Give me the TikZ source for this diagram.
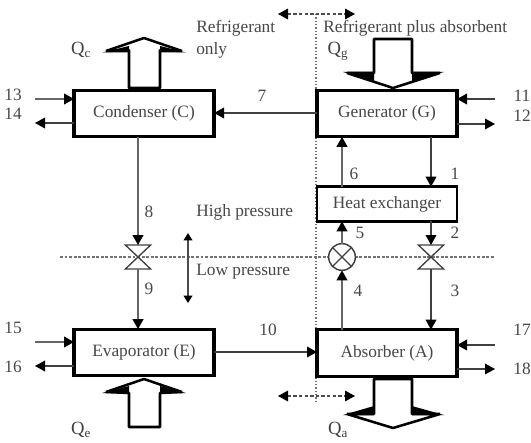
\documentclass[tikz,border=0pt]{standalone}
\usepackage{fontspec}
\setmainfont{Liberation Serif}
\usetikzlibrary{arrows.meta}
\definecolor{txt}{gray}{0.28}
\definecolor{lin}{gray}{0.25}
\tikzset{
  unit/.style={draw=black,line width=2.4pt,fill=white,inner sep=0pt,outer sep=0pt,text=txt,font=\fontsize{13}{15}\selectfont,minimum width=105pt},
  lab/.style={inner sep=0pt,text=txt,font=\fontsize{13}{15}\selectfont},
  lableft/.style={lab,anchor=west},
  qlab/.style={inner sep=0pt,text=black!75,font=\fontsize{14}{15}\selectfont},
  flow/.style={draw=lin,line width=1pt,-{Triangle[length=7.5pt,width=8pt,black]}},
  flowb/.style={draw=black!60,line width=1.5pt,-{Triangle[length=7.5pt,width=8pt,black]}},
  bigarrow/.style={draw=black,line width=1.9pt,fill=white,line join=bevel},
  barb/.style={fill=black,draw=none},
  valvebox/.style={inner sep=0pt,outer sep=0pt,minimum width=19pt,minimum height=18pt},
  pressure/.style={draw=black!55,line width=.9pt,dash pattern=on 2.2pt off 1.2pt},
  boundary/.style={draw=black!55,line width=.9pt,dash pattern=on 1.1pt off 1.4pt},
  regionarrow/.style={draw=black!70,line width=.9pt,dash pattern=on 2.6pt off 1.6pt,{Triangle[length=7.5pt,width=8pt,black]}-{Triangle[length=7.5pt,width=8pt,black]}},
  pressarrow/.style={draw=black!70,line width=1pt,{Triangle[length=5.5pt,width=6.5pt,black]}-{Triangle[length=5.5pt,width=6.5pt,black]}}
}
\newcommand{\valvedraw}[1]{\draw[draw=black!75,line width=1pt,line join=miter] (#1.north west) -- (#1.north east) -- (#1.south west) -- (#1.south east) -- cycle;}
\begin{document}
\begin{tikzpicture}[x=0.75pt,y=-0.75pt]
\useasboundingbox (0,0) rectangle (531,442);
% region lines
\coordinate (pl) at (60,257); \coordinate (pr) at (495,257);
\coordinate (bt) at (316,14); \coordinate (bb) at (316,403);
\draw[pressure] (pl) -- (pr);
\draw[boundary] (bt) -- (bb);
% units
\node[unit,minimum height=35pt] (cond) at (144,113.5) {Condenser (C)};
\node[unit,minimum height=35pt] (gen) at (387,113.5) {Generator (G)};
\node[unit,minimum height=26pt,line width=1.8pt] (hx) at (387,204) {Heat exchanger};
\node[unit,minimum height=35pt] (evap) at (144,352.5) {Evaporator (E)};
\node[unit,minimum height=35pt] (abs) at (387,353) {Absorber (A)};
% big arrows
\draw[bigarrow] (129,88) -- (129,50) -- (106,51) -- (144,38) -- (182,51) -- (160,50) -- (160,88) -- cycle;
\fill[barb] (102,52.5) -- (129,52.5) -- (129,46) -- cycle (186,52.5) -- (160,52.5) -- (160,46) -- cycle;
\draw[bigarrow] (374,73) -- (374,39) -- (412,39) -- (412,73) -- (440,73) -- (393,88) -- (347,73) -- cycle;
\fill[barb] (343,72) -- (374,72) -- (374,81) -- cycle (444,72) -- (412,72) -- (412,81) -- cycle;
\draw[bigarrow] (374,379) -- (374,414) -- (347,414) -- (393,428) -- (440,414) -- (412,414) -- (412,379) -- cycle;
\fill[barb] (343,415) -- (374,415) -- (374,406) -- cycle (444,415) -- (412,415) -- (412,406) -- cycle;
\draw[bigarrow] (129,427) -- (129,393) -- (106,392) -- (144,379) -- (182,392) -- (160,393) -- (160,427) -- cycle;
\fill[barb] (102,393) -- (129,393) -- (129,386) -- cycle (186,393) -- (160,393) -- (160,386) -- cycle;
% valves
\node[valvebox] (vl) at (138,257) {}; \valvedraw{vl}
\node[valvebox] (vr) at (431,257) {}; \valvedraw{vr}
\node[circle,draw=black!75,line width=1.1pt,fill=white,inner sep=0pt,outer sep=0pt,minimum size=20pt] (pump) at (342,257) {};
\draw[black!75,line width=1pt] (pump.45) -- (pump.225) (pump.135) -- (pump.315);
% free ends
\coordinate (p13) at (35,99); \coordinate (p14) at (35,123);
\coordinate (p15) at (35,342); \coordinate (p16) at (35,366);
\coordinate (p11) at (495,99); \coordinate (p12) at (495,124);
\coordinate (p17) at (495,345); \coordinate (p18) at (495,369);
% connectors
\draw[flowb] (p13) -- (cond.west |- p13);
\draw[flow] (cond.west |- p14) -- (p14);
\draw[flowb] (p15) -- (evap.west |- p15);
\draw[flow] (evap.west |- p16) -- (p16);
\draw[flow] (p11) -- (gen.east |- p11);
\draw[flow] (gen.east |- p12) -- (p12);
\draw[flow] (p17) -- (abs.east |- p17);
\draw[flow] (abs.east |- p18) -- (p18);
\coordinate (y7) at (0,113); \coordinate (y10) at (0,352);
\draw[flow] (gen.west |- y7) -- (cond.east |- y7);
\draw[flow] (evap.east |- y10) -- (abs.west |- y10);
\draw[flowb] (cond.south -| vl) -- (vl.north);
\draw[flowb] (vl.south) -- (evap.north -| vl);
\draw[flow] (gen.south -| vr) -- (hx.north -| vr);
\draw[flow] (hx.south -| vr) -- (vr.north);
\draw[flow] (vr.south) -- (abs.north -| vr);
\draw[flowb] (abs.north -| pump) -- (pump.south);
\draw[flowb] (pump.north) -- (hx.south -| pump);
\draw[flowb] (hx.north -| pump) -- (gen.south -| pump);
% region and pressure arrows
\coordinate (ta) at (278,14); \coordinate (tb) at (355,14);
\coordinate (ba) at (278,396); \coordinate (bc) at (355,396);
\coordinate (pa) at (188,233); \coordinate (pb) at (188,303);
\draw[regionarrow] (ta) -- (tb);
\draw[regionarrow] (ba) -- (bc);
\draw[pressarrow] (pa) -- (pb);
% labels
\node[lab] (l13) at (13,95) {13}; \node[lab] (l14) at (13,114) {14};
\node[lab] (l15) at (13,328) {15}; \node[lab] (l16) at (13,367) {16};
\node[lab] (l11) at (522,96) {11}; \node[lab] (l12) at (522,116) {12};
\node[lab] (l17) at (522,330) {17}; \node[lab] (l18) at (522,369) {18};
\node[lab] (l7) at (262,96) {7}; \node[lab] (l8) at (149,212) {8};
\node[lab] (l9) at (149,289) {9}; \node[lab] (l10) at (268,330) {10};
\node[lab] (l1) at (455,174) {1}; \node[lab] (l2) at (455,233) {2};
\node[lab] (l3) at (455,291) {3}; \node[lab] (l4) at (358,291) {4};
\node[lab] (l5) at (360,233) {5}; \node[lab] (l6) at (354,174) {6};
\node[lableft] (rf) at (196,28) {Refrigerant};
\node[lableft] (on) at (196,50) {only};
\node[lableft] (rp) at (323,28) {Refrigerant plus absorbent};
\node[lableft] (hp) at (196,212) {High pressure};
\node[lableft] (lp) at (196,272) {Low pressure};
\node[qlab] (qc) at (81,50) {Q\textsubscript{c}};
\node[qlab] (qg) at (338,51) {Q\textsubscript{g}};
\node[qlab] (qe) at (81,430) {Q\textsubscript{e}};
\node[qlab] (qa) at (338,430) {Q\textsubscript{a}};
\end{tikzpicture}
\end{document}
